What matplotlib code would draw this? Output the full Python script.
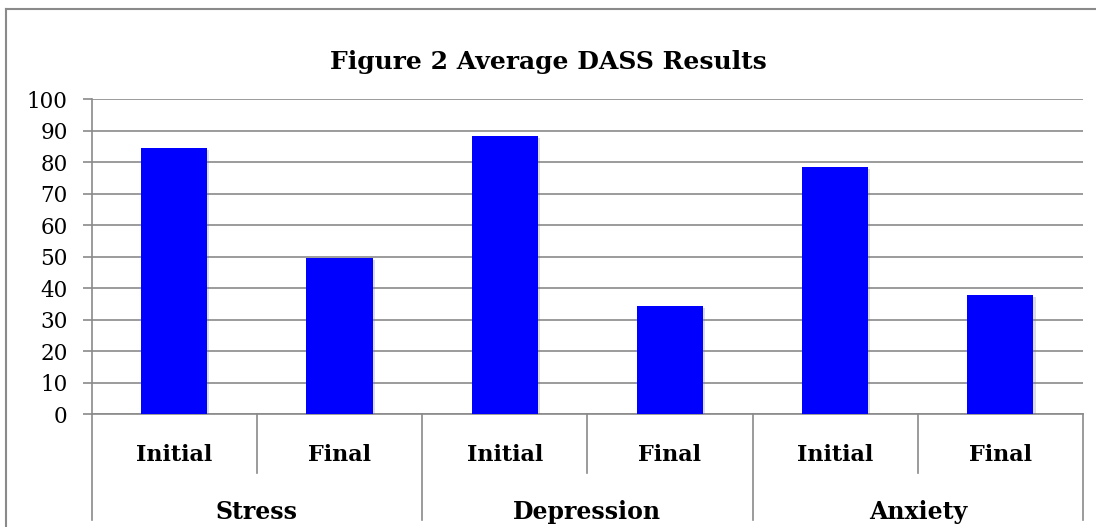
import matplotlib
matplotlib.use('Agg')
import matplotlib.pyplot as plt
import matplotlib.patheffects as pe
from matplotlib.lines import Line2D

# Average DASS scores, before and after
groups = ['Stress', 'Depression', 'Anxiety']
phases = ['Initial', 'Final']
scores = [84.6, 49.6, 88.4, 34.4, 78.6, 38.0]
yticks = list(range(0, 101, 10))

grid_color = '#8a8a8a'
plt.rcParams['font.family'] = ['DejaVu Serif']

W, H = 1096, 527
fig = plt.figure(figsize=(W / 100, H / 100), dpi=100)
ax = fig.add_axes([91.7 / W, 1 - 414.3 / H, (1083 - 91.7) / W, (414.3 - 99.3) / H])

x = list(range(len(scores)))
bars = ax.bar(x, scores, width=0.4, color='#0000ff', zorder=3)
for b in bars:
    b.set_path_effects([pe.SimplePatchShadow(offset=(1.5, -1.5), shadow_rgbFace='#777777', alpha=0.25),
                        pe.Normal()])

ax.set_xlim(-0.5, len(scores) - 0.5)
ax.set_ylim(0, 100)
ax.set_yticks(yticks)
ax.yaxis.grid(True, color=grid_color, linewidth=1.2, zorder=0)
ax.tick_params(axis='y', length=6.3, width=1.2, color=grid_color, labelsize=15.5, pad=11)
ax.set_xticks([])
for side in ['top', 'right']:
    ax.spines[side].set_visible(False)
for side in ['left', 'bottom']:
    ax.spines[side].set_color(grid_color)
    ax.spines[side].set_linewidth(1.2)

# two-level category axis below the plot
trans = ax.get_xaxis_transform()
sub_bottom = -(473 - 414.3) / 315
grp_bottom = -(520 - 414.3) / 315
for i in range(len(scores) + 1):
    bottom = grp_bottom if i % len(phases) == 0 else sub_bottom
    ax.plot([i - 0.5, i - 0.5], [0, bottom], color=grid_color, lw=1.2,
            transform=trans, clip_on=False)
for i in range(len(scores)):
    ax.text(i, -(455 - 414.3) / 315, phases[i % len(phases)], transform=trans,
            ha='center', va='center', fontsize=16, fontweight='bold')
for g, name in enumerate(groups):
    ax.text(g * len(phases) + (len(phases) - 1) / 2, -(512 - 414.3) / 315, name,
            transform=trans, ha='center', va='center', fontsize=17, fontweight='bold')

fig.text(0.5, 1 - 62 / H, 'Figure 2 Average DASS Results', ha='center', va='center',
         fontsize=18, fontweight='bold')

# chart frame
fig.add_artist(Line2D([6 / W, 6 / W], [0, 1 - 9 / H], color=grid_color, lw=1.5))
fig.add_artist(Line2D([6 / W, 1], [1 - 9 / H, 1 - 9 / H], color=grid_color, lw=1.5))

fig.savefig('out.png', dpi=100)
